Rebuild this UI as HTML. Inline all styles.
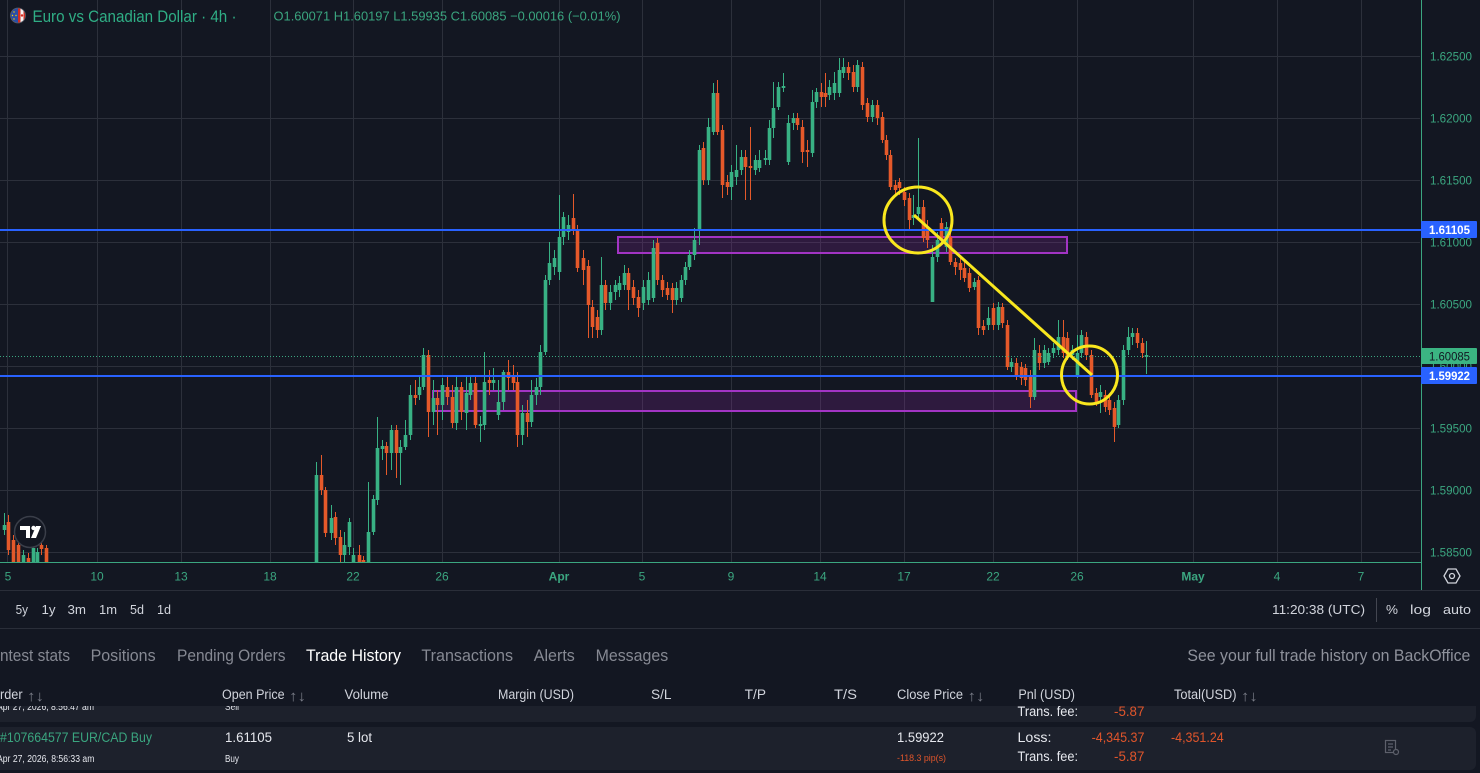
<!DOCTYPE html>
<html><head><meta charset="utf-8">
<style>
html,body{margin:0;padding:0;background:#131722;width:1480px;height:773px;overflow:hidden}
svg{display:block}
text{font-family:"Liberation Sans","DejaVu Sans",sans-serif}
.ax{fill:#3ba680;font-size:12px}
.tl{fill:#3ba680;font-size:12px;text-anchor:middle}
.tb{fill:#d1d4dc;font-size:13px}
.tab{fill:#868993;font-size:16.5px}
.hd{fill:#d1d4dc;font-size:13.5px}
.ar{fill:#787b86;font-size:15px;font-family:"DejaVu Sans",sans-serif}
.rd{fill:#e0552b}
.wt{fill:#e6e8ee}
</style></head><body>
<svg id="s" width="1480" height="773" viewBox="0 0 1480 773" xmlns="http://www.w3.org/2000/svg">
<defs>
<clipPath id="cc"><rect x="0" y="0" width="1420" height="562"/></clipPath>
<clipPath id="r1"><rect x="-5" y="706" width="1490" height="17"/></clipPath>
<clipPath id="fl"><circle cx="18" cy="15.5" r="7.5"/></clipPath>
</defs>
<rect width="1480" height="773" fill="#131722"/>

<!-- grid -->
<g stroke="#2c303b" stroke-width="1">
<path d="M0 56.5H1420M0 118.5H1420M0 180.5H1420M0 242.5H1420M0 304.5H1420M0 366.5H1420M0 428.5H1420M0 490.5H1420M0 552.5H1420"/>
<path d="M7.5 0V562M97.5 0V562M181.5 0V562M270.5 0V562M353.5 0V562M442.5 0V562M559.5 0V562M642.5 0V562M731.5 0V562M820.5 0V562M904.5 0V562M993.5 0V562M1077.5 0V562M1193.5 0V562M1277.5 0V562M1361.5 0V562"/>
</g>

<!-- purple zones -->
<rect x="618" y="237" width="449" height="16" fill="rgba(156,39,176,0.2)" stroke="#a234c4" stroke-width="2"/>
<rect x="433" y="391" width="643" height="20" fill="rgba(156,39,176,0.2)" stroke="#a234c4" stroke-width="2"/>

<!-- candles -->
<g id="cd" clip-path="url(#cc)"></g>

<!-- current price dotted -->
<line x1="0" y1="356.5" x2="1420" y2="356.5" stroke="#3ba680" stroke-width="1" stroke-dasharray="1 2"/>
<!-- blue lines -->
<line x1="0" y1="230" x2="1421" y2="230" stroke="#2962ff" stroke-width="2"/>
<line x1="0" y1="376" x2="1421" y2="376" stroke="#2962ff" stroke-width="2"/>

<!-- yellow annotations -->
<g fill="none" stroke="#f9e71e" stroke-width="3">
<ellipse cx="918" cy="220" rx="34" ry="33"/>
<ellipse cx="1089.5" cy="375" rx="28" ry="29"/>
<line x1="914" y1="215" x2="1092" y2="375"/>
</g>

<!-- TV logo -->
<circle cx="30" cy="532" r="15.5" fill="#131722" stroke="#3a3e49" stroke-width="1.5"/>
<polygon points="20,526 30,526 30,538 26,538 26,530 20,530" fill="#fff"/>
<circle cx="33.5" cy="528" r="2.2" fill="#fff"/>
<polygon points="36,526 41,526 36,538 31,538" fill="#fff"/>

<!-- axis borders -->
<line x1="0" y1="562.5" x2="1421" y2="562.5" stroke="#3ba680" stroke-width="1"/>
<line x1="1421.5" y1="0" x2="1421.5" y2="590" stroke="#3ba680" stroke-width="1"/>

<!-- price axis labels -->
<g class="ax">
<text x="1430" y="60.5" textLength="42" lengthAdjust="spacingAndGlyphs">1.62500</text>
<text x="1430" y="122.5" textLength="42" lengthAdjust="spacingAndGlyphs">1.62000</text>
<text x="1430" y="184.5" textLength="42" lengthAdjust="spacingAndGlyphs">1.61500</text>
<text x="1430" y="246.5" textLength="42" lengthAdjust="spacingAndGlyphs">1.61000</text>
<text x="1430" y="308.5" textLength="42" lengthAdjust="spacingAndGlyphs">1.60500</text>
<text x="1430" y="370.5" textLength="42" lengthAdjust="spacingAndGlyphs">1.60000</text>
<text x="1430" y="432.5" textLength="42" lengthAdjust="spacingAndGlyphs">1.59500</text>
<text x="1430" y="494.5" textLength="42" lengthAdjust="spacingAndGlyphs">1.59000</text>
<text x="1430" y="556.5" textLength="42" lengthAdjust="spacingAndGlyphs">1.58500</text>
</g>
<rect x="1421" y="221" width="56" height="17" rx="1" fill="#2962ff"/>
<text x="1429" y="234" font-size="12" font-weight="bold" fill="#fff" textLength="41" lengthAdjust="spacingAndGlyphs">1.61105</text>
<rect x="1421" y="348" width="56" height="16" rx="1" fill="#3bb482"/>
<text x="1429" y="360.5" font-size="12" fill="#131722" textLength="41" lengthAdjust="spacingAndGlyphs">1.60085</text>
<rect x="1421" y="367" width="56" height="17" rx="1" fill="#2962ff"/>
<text x="1429" y="380" font-size="12" font-weight="bold" fill="#fff" textLength="41" lengthAdjust="spacingAndGlyphs">1.59922</text>

<!-- header -->
<g clip-path="url(#fl)">
<rect x="10" y="7" width="8" height="17" fill="#2a4ea6"/>
<rect x="18" y="7" width="2.5" height="17" fill="#d52b1e"/>
<rect x="20.5" y="7" width="3" height="17" fill="#f4f4f4"/>
<rect x="23.5" y="7" width="3" height="17" fill="#d52b1e"/>
<circle cx="22" cy="15.5" r="1.2" fill="#d52b1e"/>
<circle cx="14" cy="12" r=".7" fill="#ffd200"/><circle cx="12.5" cy="15.5" r=".7" fill="#ffd200"/><circle cx="14" cy="19" r=".7" fill="#ffd200"/><circle cx="16" cy="15.5" r=".7" fill="#ffd200"/>
</g>
<circle cx="18" cy="15.5" r="7.5" fill="none" stroke="#5a5e69" stroke-width="0.8"/>
<text x="32.5" y="22" font-size="16.5" fill="#2fae85" textLength="204" lengthAdjust="spacingAndGlyphs">Euro vs Canadian Dollar · 4h ·</text>
<text x="273.5" y="20.5" font-size="13" fill="#3aa57f" textLength="347" lengthAdjust="spacingAndGlyphs">O1.60071 H1.60197 L1.59935 C1.60085 −0.00016 (−0.01%)</text>

<!-- time axis -->
<g class="tl">
<text x="8" y="580.5">5</text>
<text x="97" y="580.5">10</text>
<text x="181" y="580.5">13</text>
<text x="270" y="580.5">18</text>
<text x="353" y="580.5">22</text>
<text x="442" y="580.5">26</text>
<text x="559" y="580.5" font-weight="bold">Apr</text>
<text x="642" y="580.5">5</text>
<text x="731" y="580.5">9</text>
<text x="820" y="580.5">14</text>
<text x="904" y="580.5">17</text>
<text x="993" y="580.5">22</text>
<text x="1077" y="580.5">26</text>
<text x="1193" y="580.5" font-weight="bold">May</text>
<text x="1277" y="580.5">4</text>
<text x="1361" y="580.5">7</text>
</g>
<g fill="none" stroke="#d1d4dc" stroke-width="1.3">
<polygon points="1444,576 1448,569 1456,569 1460,576 1456,583 1448,583"/>
<circle cx="1452" cy="576" r="2.5"/>
</g>

<!-- toolbar -->
<line x1="0" y1="590.5" x2="1480" y2="590.5" stroke="#2a2e39"/>
<line x1="0" y1="628.5" x2="1480" y2="628.5" stroke="#2a2e39"/>
<g class="tb">
<text x="15.6" y="614" textLength="12.4" lengthAdjust="spacingAndGlyphs">5y</text>
<text x="41.5" y="614" textLength="14" lengthAdjust="spacingAndGlyphs">1y</text>
<text x="67.5" y="614" textLength="18.5" lengthAdjust="spacingAndGlyphs">3m</text>
<text x="99" y="614" textLength="18" lengthAdjust="spacingAndGlyphs">1m</text>
<text x="130" y="614" textLength="14" lengthAdjust="spacingAndGlyphs">5d</text>
<text x="157" y="614" textLength="14" lengthAdjust="spacingAndGlyphs">1d</text>
<text x="1272" y="614" textLength="93" lengthAdjust="spacingAndGlyphs">11:20:38 (UTC)</text>
<text x="1386" y="614" textLength="12" lengthAdjust="spacingAndGlyphs">%</text>
<text x="1410" y="614" textLength="21" lengthAdjust="spacingAndGlyphs">log</text>
<text x="1443" y="614" textLength="28" lengthAdjust="spacingAndGlyphs">auto</text>
</g>
<line x1="1376.5" y1="598" x2="1376.5" y2="622" stroke="#434651"/>

<!-- tabs -->
<g class="tab">
<text x="0" y="661" textLength="70" lengthAdjust="spacingAndGlyphs">ntest stats</text>
<text x="90.6" y="661" textLength="65" lengthAdjust="spacingAndGlyphs">Positions</text>
<text x="177" y="661" textLength="108.5" lengthAdjust="spacingAndGlyphs">Pending Orders</text>
<text x="306" y="661" textLength="95" lengthAdjust="spacingAndGlyphs" fill="#ffffff">Trade History</text>
<text x="421.4" y="661" textLength="91.6" lengthAdjust="spacingAndGlyphs">Transactions</text>
<text x="533.8" y="661" textLength="41" lengthAdjust="spacingAndGlyphs">Alerts</text>
<text x="595.6" y="661" textLength="72.6" lengthAdjust="spacingAndGlyphs">Messages</text>
<text x="1187.4" y="661" textLength="283" lengthAdjust="spacingAndGlyphs" fill="#8e919b">See your full trade history on BackOffice</text>
</g>

<!-- table header -->
<g class="hd">
<text x="0" y="699" textLength="22.6" lengthAdjust="spacingAndGlyphs">rder</text>
<text x="222" y="699" textLength="62.6" lengthAdjust="spacingAndGlyphs">Open Price</text>
<text x="344.5" y="699" textLength="44" lengthAdjust="spacingAndGlyphs">Volume</text>
<text x="498" y="699" textLength="76" lengthAdjust="spacingAndGlyphs">Margin (USD)</text>
<text x="651" y="699" textLength="20.5" lengthAdjust="spacingAndGlyphs">S/L</text>
<text x="744.7" y="699" textLength="21.3" lengthAdjust="spacingAndGlyphs">T/P</text>
<text x="834" y="699" textLength="23" lengthAdjust="spacingAndGlyphs">T/S</text>
<text x="897" y="699" textLength="66" lengthAdjust="spacingAndGlyphs">Close Price</text>
<text x="1018.4" y="699" textLength="56.6" lengthAdjust="spacingAndGlyphs">Pnl (USD)</text>
<text x="1174" y="699" textLength="62.5" lengthAdjust="spacingAndGlyphs">Total(USD)</text>
</g>
<g class="ar">
<text x="27" y="701" textLength="17" lengthAdjust="spacingAndGlyphs">↑↓</text>
<text x="289" y="701" textLength="17" lengthAdjust="spacingAndGlyphs">↑↓</text>
<text x="967.5" y="701" textLength="17" lengthAdjust="spacingAndGlyphs">↑↓</text>
<text x="1241" y="701" textLength="16.7" lengthAdjust="spacingAndGlyphs">↑↓</text>
</g>

<!-- row 1 (partial) -->
<g clip-path="url(#r1)">
<rect x="-10" y="690" width="1486" height="32" rx="6" fill="#1d212c"/>
<text x="-3" y="710" font-size="10" class="wt" textLength="97" lengthAdjust="spacingAndGlyphs">Apr 27, 2026, 8:56:47 am</text>
<text x="225" y="710" font-size="10" class="wt" textLength="14" lengthAdjust="spacingAndGlyphs">Sell</text>
<text x="1017.5" y="716" font-size="13.5" class="wt" textLength="60.5" lengthAdjust="spacingAndGlyphs">Trans. fee:</text>
<text x="1114" y="716" font-size="13.5" class="rd" textLength="30.4" lengthAdjust="spacingAndGlyphs">-5.87</text>
</g>

<!-- row 2 -->
<rect x="-10" y="727" width="1486" height="43" rx="6" fill="#1d212c"/>
<text x="0" y="742" font-size="13.5" fill="#3aa57f" textLength="152" lengthAdjust="spacingAndGlyphs">#107664577 EUR/CAD Buy</text>
<text x="-3" y="762" font-size="10" class="wt" textLength="97.4" lengthAdjust="spacingAndGlyphs">Apr 27, 2026, 8:56:33 am</text>
<text x="225" y="742" font-size="13.5" class="wt" textLength="47" lengthAdjust="spacingAndGlyphs">1.61105</text>
<text x="225" y="762" font-size="10" class="wt" textLength="14" lengthAdjust="spacingAndGlyphs">Buy</text>
<text x="347" y="742" font-size="13.5" class="wt" textLength="25" lengthAdjust="spacingAndGlyphs">5 lot</text>
<text x="897" y="742" font-size="13.5" class="wt" textLength="47" lengthAdjust="spacingAndGlyphs">1.59922</text>
<text x="897" y="761" font-size="9" class="rd" textLength="49" lengthAdjust="spacingAndGlyphs">-118.3 pip(s)</text>
<text x="1017.5" y="742" font-size="13.5" class="wt" textLength="34" lengthAdjust="spacingAndGlyphs">Loss:</text>
<text x="1091.6" y="742" font-size="13.5" class="rd" textLength="52.8" lengthAdjust="spacingAndGlyphs">-4,345.37</text>
<text x="1171" y="742" font-size="13.5" class="rd" textLength="52.7" lengthAdjust="spacingAndGlyphs">-4,351.24</text>
<text x="1017.5" y="761" font-size="13.5" class="wt" textLength="60.5" lengthAdjust="spacingAndGlyphs">Trans. fee:</text>
<text x="1114" y="761" font-size="13.5" class="rd" textLength="30.4" lengthAdjust="spacingAndGlyphs">-5.87</text>
<g fill="none" stroke="#5d606b" stroke-width="1.2">
<rect x="1385.5" y="740.5" width="10" height="12"/>
<path d="M1388 744h5M1388 747h5M1388 750h3"/>
<circle cx="1396" cy="752" r="2.5" fill="#1d212c"/>
</g>
</svg>
<script>
var D="4,525,530,513,535,g;8,522,550,515,555,r;13,540,565,535,570,r;18,545,565,540,570,r;23,555,565,550,570,g;28,558,565,553,570,r;33,548,565,540,570,g;37,552,565,548,570,g;41,545,549,540,555,r;46,548,565,545,570,r;"+
"316,475,570,462,570,g;321,475,490,455,495,r;325,490,533,487,537,r;331,518,533,505,540,g;335,517,538,512,545,r;340,537,555,530,570,r;344,545,555,532,570,g;349,522,547,518,555,g;353,555,565,548,570,g;359,555,565,545,570,r;363,560,566,556,570,r;368,532,570,482,570,g;373,499,532,495,535,g;377,448,500,417,505,g;382,446,449,440,460,g;386,446,453,442,475,r;391,430,453,425,470,g;396,430,453,425,478,r;400,447,453,440,485,g;405,435,447,420,450,g;410,395,435,385,440,g;415,395,398,380,405,r;419,387,395,375,400,g;423,355,387,348,390,g;428,355,412,350,437,r;433,398,412,380,425,g;437,398,405,390,435,r;442,385,405,378,420,g;447,387,397,375,405,r;452,397,423,385,428,r;456,387,423,375,430,g;461,387,412,382,420,r;466,393,413,375,430,g;470,383,395,375,400,g;475,383,425,375,428,r;480,424,426,416,442,g;484,382,425,352,430,g;489,380,383,370,395,r;493,380,383,368,390,g;498,402,415,380,420,g;503,372,402,370,410,g;508,372,378,360,390,r;513,377,383,365,390,r;517,382,435,372,447,r;522,413,435,405,445,g;527,413,422,400,437,r;531,395,422,380,427,g;536,387,395,378,405,g;540,352,387,345,395,g;545,280,352,275,355,g;"+
"549,263,280,242,285,g;554,258,267,250,275,g;559,237,272,195,280,g;563,217,237,212,245,g;568,225,232,215,240,g;573,218,230,194,235,r;577,230,268,225,272,r;583,258,270,250,285,r;588,266,305,260,338,r;592,307,327,300,338,r;597,317,330,310,338,r;601,285,330,257,335,g;605,285,303,280,310,r;610,292,303,285,310,g;615,285,292,280,300,g;619,283,290,276,297,g;624,273,285,265,290,g;628,273,290,268,310,r;633,287,298,280,305,r;638,297,308,290,317,r;643,287,303,280,310,g;648,280,300,272,305,g;653,248,298,240,302,g;657,243,280,238,285,r;662,280,290,275,297,r;667,288,295,282,300,r;672,288,300,283,313,r;676,288,300,282,305,g;681,280,298,275,302,g;685,267,280,262,285,g;689,255,267,250,270,g;694,240,255,228,260,g;699,150,230,145,245,g;703,148,180,142,185,r;708,127,180,118,185,g;713,93,132,83,135,g;717,93,132,80,135,r;722,130,185,125,198,r;727,182,187,175,195,r;731,172,187,165,200,g;736,170,177,145,185,g;741,157,170,150,175,g;745,157,167,150,200,r;750,166,168,127,200,r;755,160,170,155,175,g;759,160,168,150,172,g;765,158,160,150,165,g;769,128,160,120,165,g;773,108,128,82,138,g;778,87,107,82,110,g;783,86,88,73,92,g;788,123,162,115,165,g;793,118,123,113,130,g;797,118,125,113,130,r;802,127,152,120,163,r;807,150,152,140,167,r;812,102,153,90,157,g;816,92,102,88,108,g;821,92,97,83,107,r;825,93,97,73,107,r;829,87,95,80,100,g;834,83,93,72,100,g;839,70,93,58,97,g;843,67,73,58,78,g;848,67,73,62,80,r;853,72,87,65,92,r;857,65,87,60,92,g;862,67,105,62,110,r;867,103,117,98,122,r;872,105,117,100,122,g;877,105,118,100,125,r;882,117,140,112,143,r;886,140,155,135,160,r;890,155,187,150,190,r;895,185,190,180,196,r;899,182,188,178,195,r;904,192,200,187,206,r;909,198,220,193,230,r;913,215,218,195,225,g;918,207,214,138,220,g;923,207,238,200,242,r;927,227,240,220,248,r;932,257,302,245,302,g;937,240,257,232,262,g;941,223,240,218,245,r;946,227,247,222,252,g;950,237,262,230,265,r;955,262,267,258,275,r;960,263,270,258,280,r;964,268,278,262,282,r;969,273,288,268,292,r;974,282,287,278,290,g;978,280,328,276,335,r;983,326,330,320,335,r;988,318,325,307,330,g;993,308,325,303,330,r;998,307,325,302,330,g;1002,307,323,303,328,r;1007,325,367,320,370,r;1011,362,367,358,372,g;1016,363,375,358,380,r;1021,367,378,362,385,r;1025,368,380,364,386,r;1030,375,397,370,408,r;1034,350,397,338,400,g;1039,353,363,345,370,r;1044,350,363,345,368,g;1048,353,362,348,365,g;1053,348,353,343,358,g;1058,337,350,320,355,g;1063,337,353,320,358,r;1067,338,357,332,360,r;1072,350,355,345,360,g;1077,353,375,335,378,g;1081,335,353,330,358,g;1086,337,355,332,360,r;1091,355,395,350,398,r;1096,393,402,388,406,r;1100,392,397,385,413,g;1105,395,407,390,412,r;1109,400,410,395,415,r;1114,408,427,402,442,r;1118,400,425,395,428,g;1123,350,400,345,405,g;1128,337,350,327,355,g;1132,333,337,328,345,g;1137,333,343,328,348,r;1142,343,353,338,358,r;1146,355,357,341,374,g";
var NS="http://www.w3.org/2000/svg",G=document.getElementById("cd");
var gw="",rw="",gb="",rb="";
D.split(";").forEach(function(s){
 if(!s)return;var a=s.split(","),x=+a[0],t=+a[1],b=+a[2],wt=+a[3],wb=+a[4],c=a[5];
 if(b-t<1.2)b=t+1.2;
 var w="M"+(x+0.5)+" "+wt+"V"+wb;
 var bd="M"+(x-1.3)+" "+t+"h3.6V"+b+"h-3.6Z";
 if(c=="g"){gw+=w;gb+=bd;}else{rw+=w;rb+=bd;}
});
function P(d,attrs){var p=document.createElementNS(NS,"path");p.setAttribute("d",d);for(var k in attrs)p.setAttribute(k,attrs[k]);G.appendChild(p);}
P(gw,{stroke:"#38b184","stroke-width":"1",fill:"none"});
P(rw,{stroke:"#e5592a","stroke-width":"1",fill:"none"});
P(gb,{fill:"#38b184"});
P(rb,{fill:"#e5592a"});
</script>
</body></html>
